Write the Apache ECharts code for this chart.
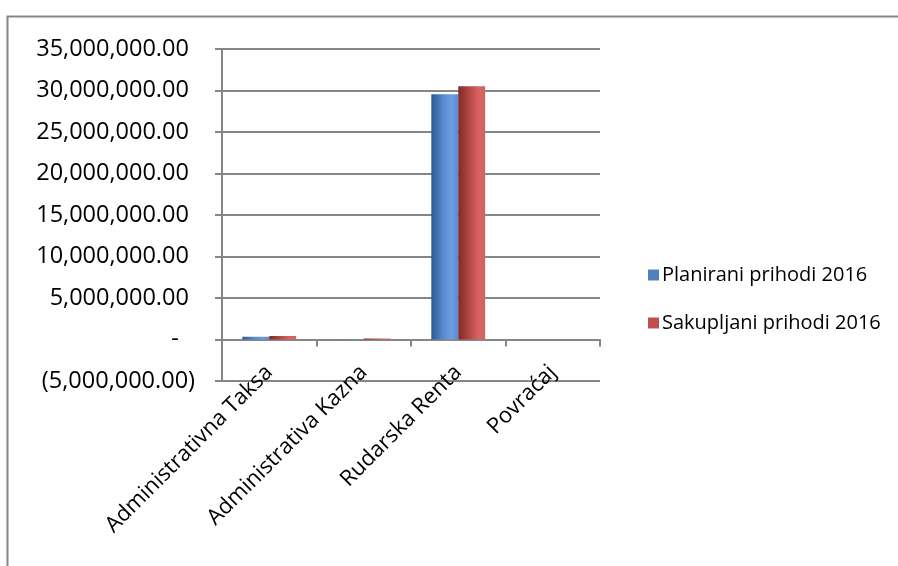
<!DOCTYPE html>
<html>
<head>
<meta charset="utf-8">
<script src="https://cdn.jsdelivr.net/npm/echarts@6/dist/echarts.min.js"></script>
<style>html,body{margin:0;padding:0;background:#fff;}#c{width:898px;height:566px;}</style>
</head>
<body>
<div id="c"></div>
<script>
const categories = ['Administrativna Taksa', 'Administrativa Kazna', 'Rudarska Renta', 'Povraćaj'];
const seriesNames = ['Planirani prihodi 2016', 'Sakupljani prihodi 2016'];
const planirani = [330000, 20000, 29550000, 0];
const sakupljani = [420000, 120000, 30500000, 0];
const yMin = -5000000, yMax = 35000000, yStep = 5000000;

const font = '"Open Sans", "Noto Sans", sans-serif';
function fmt(v) {
  if (v === 0) return '-  \u2009';
  const s = Math.abs(v).toLocaleString('en-US', {minimumFractionDigits: 2, maximumFractionDigits: 2});
  return v < 0 ? '(' + s + ')' : s + ' ';
}
function grad(c0, c1, c2, c3) {
  return new echarts.graphic.LinearGradient(0, 0, 1, 0, [
    {offset: 0, color: c0}, {offset: 0.45, color: c1}, {offset: 0.75, color: c2}, {offset: 1, color: c3}
  ]);
}
const blueFill = grad('#2d5a93', '#5a8ad0', '#6d9ee2', '#5a8bd0');
const redFill = grad('#7f2a28', '#b84a48', '#d86462', '#d06260');

const chart = echarts.init(document.getElementById('c'), null, {renderer: 'canvas'});
chart.setOption({
  animation: false,
  backgroundColor: '#ffffff',
  graphic: [{
    type: 'rect', left: 5, top: 14,
    shape: {width: 1000, height: 700},
    style: {fill: 'none', stroke: '#868686', lineWidth: 2}
  }],
  grid: {left: 222, right: 298, top: 49, bottom: 185, containLabel: false},
  legend: {
    orient: 'vertical', left: 643, top: 260,
    itemWidth: 11, itemHeight: 11, itemGap: 28,
    icon: 'rect',
    textStyle: {fontFamily: font, fontSize: 20, color: '#000', padding: [0, 0, 0, -2]},
    data: [{name: seriesNames[0], itemStyle: {color: '#4f81bd'}}, {name: seriesNames[1], itemStyle: {color: '#c0504d'}}]
  },
  xAxis: {
    type: 'category', data: categories,
    axisLine: {onZero: true, lineStyle: {color: '#868686', width: 2}},
    axisTick: {show: true, length: 7, alignWithLabel: false, lineStyle: {color: '#868686', width: 2}},
    axisLabel: {rotate: 45, interval: 0, margin: -12, fontFamily: font, fontSize: 22, color: '#000'},
    splitLine: {show: false}
  },
  yAxis: {
    type: 'value', min: yMin, max: yMax, interval: yStep,
    axisLine: {show: true, lineStyle: {color: '#868686', width: 2}},
    axisTick: {show: true, length: 7, lineStyle: {color: '#868686', width: 2}},
    axisLabel: {margin: 27, fontFamily: font, fontSize: 23.5, color: '#000', formatter: fmt},
    splitLine: {show: true, lineStyle: {color: '#868686', width: 2}}
  },
  series: [
    {name: seriesNames[0], type: 'bar', data: planirani, barGap: '0%', barCategoryGap: '43%', itemStyle: {color: blueFill}},
    {name: seriesNames[1], type: 'bar', data: sakupljani, barGap: '0%', barCategoryGap: '43%', itemStyle: {color: redFill}}
  ]
});
</script>
</body>
</html>
